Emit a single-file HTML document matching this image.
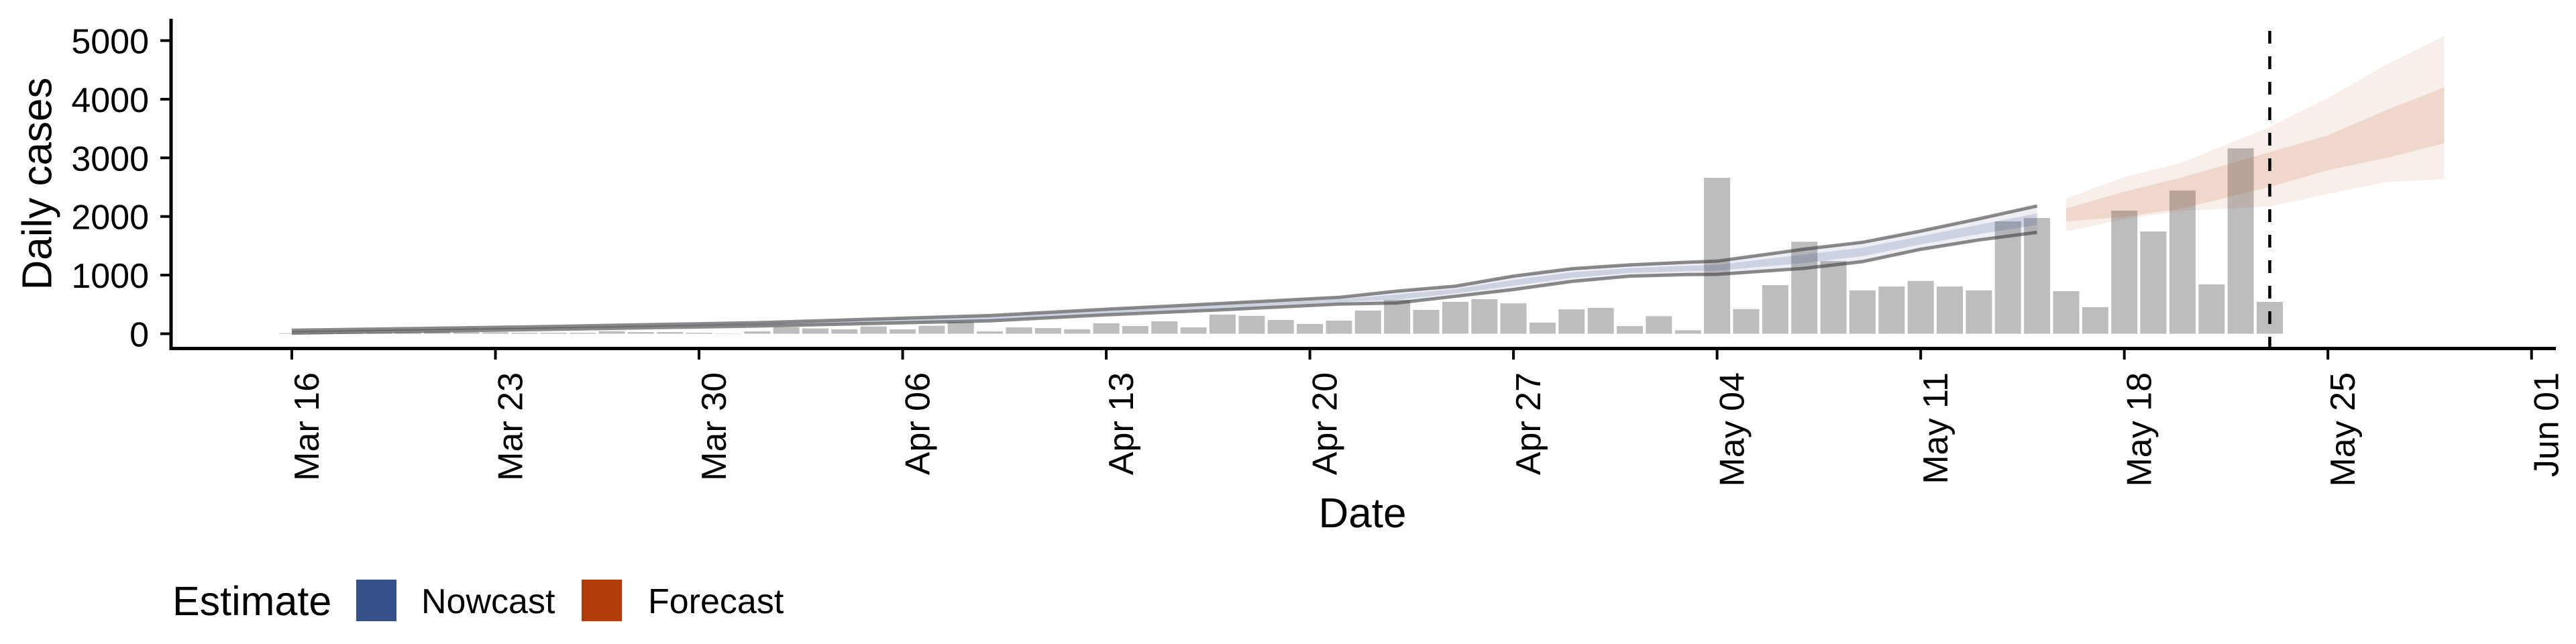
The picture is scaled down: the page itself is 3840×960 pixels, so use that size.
<!DOCTYPE html>
<html><head><meta charset="utf-8"><style>
html,body{margin:0;padding:0;background:#fff;}
svg{display:block;font-family:"Liberation Sans",Arial,sans-serif;}
</style></head><body>
<svg id="chart" width="3840" height="960" viewBox="0 0 3840 960">
<g id="bars"></g>
<g id="bands"></g>
<g id="axes"></g>
<text x="56" y="274" font-size="62" text-anchor="middle" dominant-baseline="central" transform="rotate(-90 56 274)">Daily cases</text>
<text x="2031" y="786" font-size="62" text-anchor="middle">Date</text>
<g>
<text x="257" y="917" font-size="61">Estimate</text>
<rect x="531" y="864" width="60" height="62" fill="#36508a"/>
<text x="628" y="914" font-size="52">Nowcast</text>
<rect x="867" y="864" width="60" height="62" fill="#b33c0b"/>
<text x="966" y="914" font-size="52">Forecast</text>
</g>
</svg>
<script>
const cases = [10,15,15,20,25,36,25,25,17,17,17,44,29,29,17,6,40,113,90,75,124,75,136,204,40,109,97,74,178,132,212,109,326,304,235,166,223,395,578,407,545,590,520,190,415,440,130,300,60,2660,420,830,1570,1240,740,805,900,805,740,1917,1974,727,454,2100,1745,2444,842,3163,544];
const nowDays = [0,8,16,24,28,32,36,38,40,42,44,46,48,49,52,54,56,58,60];
const nowUpper = [59,116,189,310,418,517,620,727,811,983,1109,1174,1220,1238,1443,1560,1750,1960,2178];
const nowLower = [10,67,132,220,323,410,506,525,639,754,893,983,1010,1013,1116,1230,1440,1600,1729];
const fcDays = [61,63,65,68,70,72,74];
const fcOuterTop = [2309,2669,2922,3527,4017,4589,5080];
const fcOuterBot = [1745,1953,2096,2170,2383,2587,2636];
const fcInnerTop = [2137,2423,2669,3098,3384,3813,4201];
const fcInnerBot = [1913,1994,2137,2505,2791,2996,3249];
const yTicks = [0,1000,2000,3000,4000,5000];
const xTickDays = [0,7,14,21,28,35,42,49,56,63,70,77];
const xTickLabels = ["Mar 16","Mar 23","Mar 30","Apr 06","Apr 13","Apr 20","Apr 27","May 04","May 11","May 18","May 25","Jun 01"];
const forecastDateDay = 68;

const NS = "http://www.w3.org/2000/svg";
const X = d => 435 + 43.36 * d;
const Y = v => 497.5 - v * 0.0874;
function mk(tag, attrs, parent){const e=document.createElementNS(NS,tag);for(const k in attrs)e.setAttribute(k,attrs[k]);parent.appendChild(e);return e;}
function bandPath(days, top, bot){
  let p = days.map((d,i)=>(i?'L':'M')+X(d).toFixed(1)+' '+Y(top[i]).toFixed(1)).join(' ');
  for(let i=days.length-1;i>=0;i--) p += ' L'+X(days[i]).toFixed(1)+' '+Y(bot[i]).toFixed(1);
  return p+' Z';
}
function linePath(days, vals){return days.map((d,i)=>(i?'L':'M')+X(d).toFixed(1)+' '+Y(vals[i]).toFixed(1)).join(' ');}

const bars = document.getElementById('bars');
cases.forEach((v,d)=>{
  const r = mk('rect',{x:(X(d)-19.5).toFixed(1),y:Y(v).toFixed(1),width:39,height:(v*0.0874).toFixed(1),fill:'#bdbdbd'},bars);
  
  
});

const bands = document.getElementById('bands');
const nOuter = mk('path',{d:bandPath(nowDays,nowUpper,nowLower),fill:'#36508a','fill-opacity':0.09},bands);


const innerU = nowUpper.map((u,i)=>nowLower[i]+(u-nowLower[i])*0.72);
const innerL = nowUpper.map((u,i)=>nowLower[i]+(u-nowLower[i])*0.28);
const nInner = mk('path',{d:bandPath(nowDays,innerU,innerL),fill:'#36508a','fill-opacity':0.18},bands);


const lu = mk('path',{d:linePath(nowDays,nowUpper),fill:'none',stroke:'#3c3c3c','stroke-opacity':0.6,'stroke-width':5},bands);


const ll = mk('path',{d:linePath(nowDays,nowLower),fill:'none',stroke:'#3c3c3c','stroke-opacity':0.6,'stroke-width':5},bands);


const fOuter = mk('path',{d:bandPath(fcDays,fcOuterTop,fcOuterBot),fill:'#b33c0b','fill-opacity':0.085},bands);


const fInner = mk('path',{d:bandPath(fcDays,fcInnerTop,fcInnerBot),fill:'#b33c0b','fill-opacity':0.13},bands);



const axes = document.getElementById('axes');
const dash = mk('line',{x1:X(forecastDateDay),x2:X(forecastDateDay),y1:46,y2:519,stroke:'#000','stroke-width':4.5,'stroke-dasharray':'19 19'},axes);


const ya = mk('line',{x1:255,x2:255,y1:28,y2:522,stroke:'#000','stroke-width':5},axes);


const xa = mk('line',{x1:253,x2:3810,y1:519.5,y2:519.5,stroke:'#000','stroke-width':5},axes);


yTicks.forEach(v=>{
  const t = mk('line',{x1:239,x2:255,y1:Y(v),y2:Y(v),stroke:'#000','stroke-width':4},axes);
  
  
  const l = mk('text',{x:222,y:Y(v)+19,'font-size':52,'text-anchor':'end'},axes);
  l.textContent = v;
  
  
});
xTickDays.forEach((d,i)=>{
  const t = mk('line',{x1:X(d),x2:X(d),y1:522,y2:536,stroke:'#000','stroke-width':4},axes);
  
  
  const l = mk('text',{'font-size':52,'text-anchor':'end',transform:'translate('+(X(d)+40).toFixed(1)+',555) rotate(-90)'},axes);
  l.textContent = xTickLabels[i];
  
  
});
</script>
</body></html>
